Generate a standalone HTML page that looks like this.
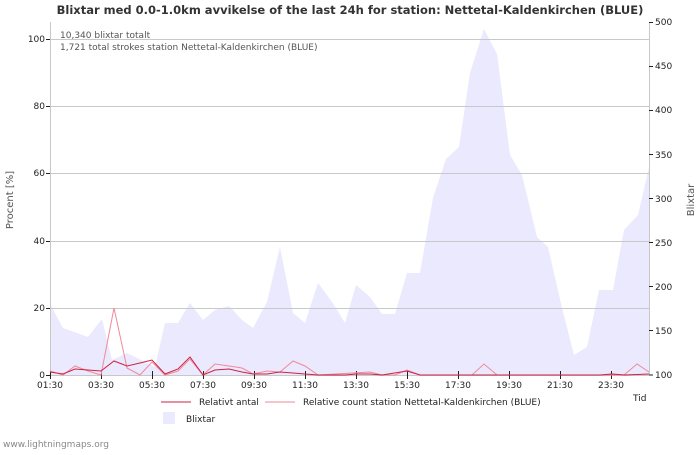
<!DOCTYPE html>
<html><head><meta charset="utf-8"><style>
body{margin:0;background:#fff;width:700px;height:450px;overflow:hidden}
text{font-family:"DejaVu Sans","Liberation Sans",sans-serif}
</style></head><body>
<svg width="700" height="450" xmlns="http://www.w3.org/2000/svg">
<rect width="700" height="450" fill="#fff"/>
<text x="350" y="14" text-anchor="middle" font-size="11.5" font-weight="bold" fill="#333">Blixtar med 0.0-1.0km avvikelse of the last 24h for station: Nettetal-Kaldenkirchen (BLUE)</text>
<polygon fill="#eae9fd" points="50,375 50,304 63,328 88,337 102,319 112,360 127,353 155,367 165,323 178,323 190,303 203,320 215,310 229,306 242,320 253,328 267,302 280,247 293,313 305,323 318,283 332,302 345,323 356,285 370,297 382,314 395,314 407,273 420,273 433,198 446,159 459,147 470,73 484,29 497,54 510,155 522,175 537,237 548,247 562,308 574,355 587,347 599,290 613,290 624,230 638,215 650,163 650,375"/>
<g stroke="#c8c8c8" stroke-width="1">
<line x1="50" y1="39.5" x2="649" y2="39.5"/><line x1="50" y1="106.5" x2="649" y2="106.5"/><line x1="50" y1="173.5" x2="649" y2="173.5"/><line x1="50" y1="241.5" x2="649" y2="241.5"/><line x1="50" y1="308.5" x2="649" y2="308.5"/>
<line x1="50.5" y1="22" x2="50.5" y2="375"/><line x1="649.5" y1="22" x2="649.5" y2="375"/>
<line x1="50" y1="375.5" x2="649" y2="375.5"/>
</g>
<g stroke="#222" stroke-width="1">
<line x1="46" y1="39.5" x2="50" y2="39.5"/><line x1="46" y1="106.5" x2="50" y2="106.5"/><line x1="46" y1="173.5" x2="50" y2="173.5"/><line x1="46" y1="241.5" x2="50" y2="241.5"/><line x1="46" y1="308.5" x2="50" y2="308.5"/><line x1="46" y1="375.5" x2="50" y2="375.5"/>
<line x1="649" y1="22.5" x2="653" y2="22.5"/><line x1="649" y1="66.5" x2="653" y2="66.5"/><line x1="649" y1="110.5" x2="653" y2="110.5"/><line x1="649" y1="154.5" x2="653" y2="154.5"/><line x1="649" y1="198.5" x2="653" y2="198.5"/><line x1="649" y1="242.5" x2="653" y2="242.5"/><line x1="649" y1="286.5" x2="653" y2="286.5"/><line x1="649" y1="330.5" x2="653" y2="330.5"/><line x1="649" y1="375" x2="653" y2="375"/>
<line x1="50.5" y1="371" x2="50.5" y2="379"/><line x1="101.5" y1="371" x2="101.5" y2="379"/><line x1="152.5" y1="371" x2="152.5" y2="379"/><line x1="203.5" y1="371" x2="203.5" y2="379"/><line x1="254.5" y1="371" x2="254.5" y2="379"/><line x1="305.5" y1="371" x2="305.5" y2="379"/><line x1="356.5" y1="371" x2="356.5" y2="379"/><line x1="407.5" y1="371" x2="407.5" y2="379"/><line x1="458.5" y1="371" x2="458.5" y2="379"/><line x1="509.5" y1="371" x2="509.5" y2="379"/><line x1="560.5" y1="371" x2="560.5" y2="379"/><line x1="611.5" y1="371" x2="611.5" y2="379"/>
</g>
<polyline fill="none" stroke="#f08a9a" stroke-width="1" points="50,371 63,375 75,366 88,371 101,375 114,308 127,368 140,375 152,362 165,375 178,371 190,359 203,375 215,364 229,366 242,368 253,374 267,371 280,372 293,361 305,366 318,375 370,372 382,375 395,375 407,370 420,375 472,375 484,364 497,375 624,375 637,364 649,372"/>
<polyline fill="none" stroke="#cc2244" stroke-width="1" points="50,372 63,374 75,369 88,370 101,371 114,361 127,366 140,363 152,360 165,374 178,369 190,357 203,375 215,370 229,369 242,372 253,374 267,374 280,372 293,373 305,374 318,375 345,375 356,374 370,374 382,375 407,371 420,375 600,375 612,374 625,375 649,374"/>
<g font-size="9" fill="#222">
<text x="45" y="42" text-anchor="end">100</text><text x="45" y="109" text-anchor="end">80</text><text x="45" y="176" text-anchor="end">60</text><text x="45" y="244" text-anchor="end">40</text><text x="45" y="311" text-anchor="end">20</text><text x="45" y="378" text-anchor="end">0</text>
<text x="655" y="25">500</text><text x="655" y="69">450</text><text x="655" y="113">400</text><text x="655" y="158">350</text><text x="655" y="202">300</text><text x="655" y="246">250</text><text x="655" y="290">200</text><text x="655" y="334">150</text><text x="655" y="378">100</text>
<text x="50" y="388" text-anchor="middle">01:30</text><text x="101" y="388" text-anchor="middle">03:30</text><text x="152" y="388" text-anchor="middle">05:30</text><text x="203" y="388" text-anchor="middle">07:30</text><text x="254" y="388" text-anchor="middle">09:30</text><text x="305" y="388" text-anchor="middle">11:30</text><text x="356" y="388" text-anchor="middle">13:30</text><text x="407" y="388" text-anchor="middle">15:30</text><text x="458" y="388" text-anchor="middle">17:30</text><text x="509" y="388" text-anchor="middle">19:30</text><text x="560" y="388" text-anchor="middle">21:30</text><text x="611" y="388" text-anchor="middle">23:30</text>
<text x="633" y="401">Tid</text>
<text x="60" y="38" fill="#555">10,340 blixtar totalt</text>
<text x="60" y="50" fill="#555">1,721 total strokes station Nettetal-Kaldenkirchen (BLUE)</text>
<text transform="translate(13,200) rotate(-90)" text-anchor="middle" fill="#555" font-size="10">Procent   [%]</text>
<text transform="translate(694,200) rotate(-90)" text-anchor="middle" fill="#555" font-size="10">Blixtar</text>
<line x1="161" y1="402" x2="191" y2="402" stroke="#cc2244"/><text x="199" y="405">Relativt antal</text>
<line x1="265" y1="402" x2="295" y2="402" stroke="#f08a9a"/><text x="303" y="405">Relative count station Nettetal-Kaldenkirchen (BLUE)</text>
<rect x="163" y="412" width="12" height="12" fill="#eae9fd"/><text x="186" y="422">Blixtar</text>
<text x="3" y="447" fill="#888">www.lightningmaps.org</text>
</g>
</svg>
</body></html>
